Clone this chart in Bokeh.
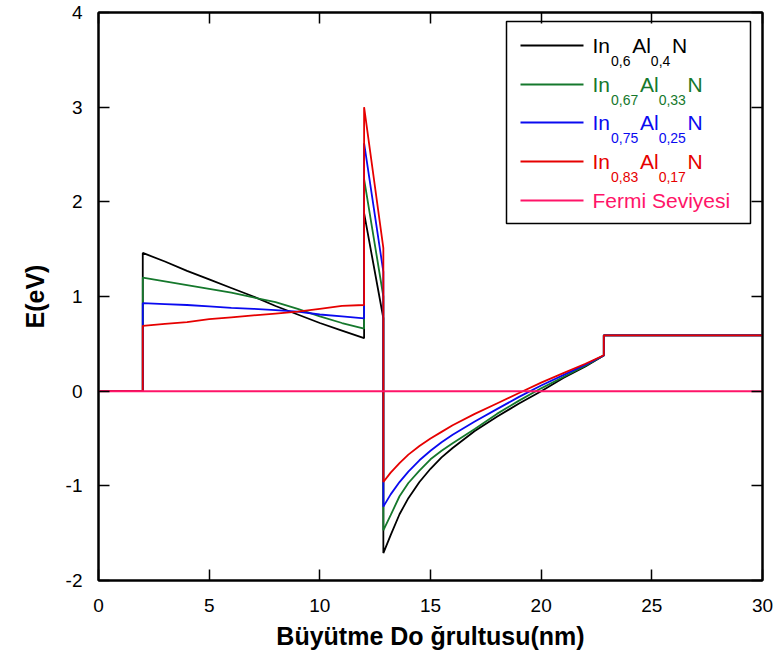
import numpy as np
from bokeh.plotting import figure
from bokeh.models import LinearAxis, Range1d, FixedTicker, ColumnDataSource, CustomJSTickFormatter
from bokeh.embed import file_html
from bokeh.resources import INLINE
from bokeh.core.properties import value

# ---------------- data ----------------
series_keys = ["In0.6Al0.4N", "In0.67Al0.33N", "In0.75Al0.25N", "In0.83Al0.17N"]
series_colors = ["#000000", "#15782c", "#0a0af0", "#e60000"]
fermi_color = "#ff1468"

# barrier region (nm)
barrier_x = [2, 3, 4, 5, 6, 7, 8, 9, 10, 11, 12]
barrier_black = [1.46, 1.37, 1.27, 1.18, 1.09, 1.00, 0.90, 0.81, 0.72, 0.64, 0.56]
barrier_green = [1.20, 1.16, 1.12, 1.08, 1.04, 0.99, 0.94, 0.87, 0.79, 0.72, 0.66]
barrier_blue = [0.93, 0.92, 0.91, 0.895, 0.88, 0.87, 0.855, 0.84, 0.81, 0.79, 0.77]
barrier_red = [0.69, 0.71, 0.73, 0.76, 0.78, 0.80, 0.82, 0.84, 0.87, 0.90, 0.91]

# spike region
spike_x = [12.0, 12.87]
spike_top = [1.88, 2.24, 2.62, 3.00]
spike_bottom = [0.77, 1.00, 1.26, 1.51]

# well region
well_x = [12.87, 13.2, 13.6, 14.0, 14.5, 15.0, 15.5, 16.0, 17.0, 18.0, 19.0, 20.0, 21.0, 22.0, 22.83]
well_black = [-1.71, -1.52, -1.30, -1.13, -0.96, -0.82, -0.70, -0.60, -0.42, -0.27, -0.13, 0.00, 0.14, 0.26, 0.377]
well_green = [-1.47, -1.31, -1.11, -0.97, -0.84, -0.72, -0.63, -0.55, -0.40, -0.24, -0.10, 0.03, 0.15, 0.27, 0.377]
well_blue = [-1.22, -1.09, -0.96, -0.85, -0.73, -0.63, -0.54, -0.46, -0.32, -0.19, -0.06, 0.06, 0.17, 0.28, 0.377]
well_red = [-0.96, -0.86, -0.76, -0.67, -0.58, -0.50, -0.43, -0.36, -0.24, -0.13, -0.02, 0.09, 0.19, 0.29, 0.38]

# substrate region
flat_x = [22.83, 30.0]
flat_level = 0.59

# before barrier
lead_x = [0.0, 2.0]
lead_level = 0.0

fermi_x = [0, 30]
fermi_y = [0, 0]

x_ticks = [0, 5, 10, 15, 20, 25, 30]
y_ticks = [-2, -1, 0, 1, 2, 3, 4]
y_tick_labels = ["-2", "-1", "0", "1", "2", "3", "4"]

legend_subs = [("0,6", "0,4"), ("0,67", "0,33"), ("0,75", "0,25"), ("0,83", "0,17")]
legend_fermi = "Fermi Seviyesi"

barriers = [barrier_black, barrier_green, barrier_blue, barrier_red]
wells = [well_black, well_green, well_blue, well_red]

# ---------------- figure ----------------
W, H = 776, 668
FL, FR, FT, FB = 98, 762, 12, 580
p = figure(width=W, height=H, output_backend="svg", toolbar_location=None,
           x_range=Range1d(0, 30), y_range=Range1d(-2, 4),
           min_border_left=FL, min_border_right=W - FR,
           min_border_top=FT, min_border_bottom=H - FB)
p.xgrid.visible = False
p.ygrid.visible = False
p.outline_line_color = "black"
p.outline_line_width = 2
p.background_fill_color = "white"
p.border_fill_color = "white"

FONT = "Liberation Sans"

def style_axis(ax, labels=True):
    ax.axis_line_color = "black"
    ax.axis_line_width = 2
    ax.major_tick_in = 11
    ax.major_tick_out = 0
    ax.major_tick_line_width = 1.5
    ax.minor_tick_line_color = None
    ax.major_label_text_font = FONT
    ax.major_label_text_color = "black"
    ax.major_label_text_font_size = "19px"
    if not labels:
        ax.formatter = CustomJSTickFormatter(code="return '';")
        ax.major_label_standoff = 0

p.xaxis.ticker = FixedTicker(ticks=x_ticks)
p.yaxis.ticker = FixedTicker(ticks=y_ticks)
style_axis(p.xaxis[0])
style_axis(p.yaxis[0])
p.yaxis[0].major_label_overrides = {t: s for t, s in zip(y_ticks, y_tick_labels)}
p.xaxis.major_label_standoff = 18
p.yaxis.major_label_standoff = 16
p.xaxis.axis_label = "Büyütme Do ğrultusu(nm)"
p.yaxis.axis_label = "E(eV)"
for ax in (p.xaxis[0], p.yaxis[0]):
    ax.axis_label_text_font = FONT
    ax.axis_label_text_font_style = "bold"
    ax.axis_label_text_font_size = "25px"
    ax.axis_label_text_color = "black"
p.xaxis.axis_label_standoff = 7
p.yaxis.axis_label_standoff = 14

top_ax = LinearAxis(ticker=FixedTicker(ticks=x_ticks))
right_ax = LinearAxis(ticker=FixedTicker(ticks=y_ticks))
style_axis(top_ax, labels=False)
style_axis(right_ax, labels=False)
p.add_layout(top_ax, "above")
p.add_layout(right_ax, "right")

# ---------------- curves ----------------
for i in range(4):
    xs = lead_x + barrier_x + spike_x + well_x + flat_x
    ys = ([lead_level, lead_level] + barriers[i] + [spike_top[i], spike_bottom[i]]
          + wells[i] + [flat_level, flat_level])
    p.line(xs, ys, line_color=series_colors[i], line_width=1.8)

p.line(fermi_x, fermi_y, line_color=fermi_color, line_width=2)

# ---------------- legend ----------------
def px2x(px):
    return (px - FL) / (FR - FL) * 30.0

def py2y(py):
    return 4.0 - (py - FT) / (FB - FT) * 6.0

box_l, box_r, box_t, box_b = 506, 750, 21, 223
p.quad(left=[px2x(box_l)], right=[px2x(box_r)], top=[py2y(box_t)], bottom=[py2y(box_b)],
       fill_color="white", line_color="black", line_width=1.5)

row_py = [45, 84, 122, 161, 200]
seg_x0 = [px2x(520)] * 5
seg_x1 = [px2x(583)] * 5
seg_y = [py2y(v) for v in row_py]
p.segment(x0=seg_x0, x1=seg_x1, y0=seg_y, y1=seg_y,
          line_color=series_colors + [fermi_color], line_width=1.8)

MAIN_FS, SUB_FS = 21, 14
txt = dict(x=[], y=[], text=[], color=[], size=[])

def add(t, px, py, color, fs):
    txt["x"].append(px2x(px))
    txt["y"].append(py2y(py))
    txt["text"].append(t)
    txt["color"].append(color)
    txt["size"].append(f"{fs}px")

def width_est(s, fs):
    w = {"0": .556, "1": .556, "2": .556, "3": .556, "4": .556, "5": .556, "6": .556,
         "7": .556, "8": .556, "9": .556, ",": .40, "I": .278, "n": .556, "A": .667,
         "l": .222, "N": .722}
    return sum(w.get(c, .556) for c in s) * fs

for i, (s1, s2) in enumerate(legend_subs):
    py = row_py[i]
    c = series_colors[i]
    x = 592
    add("In", x, py, c, MAIN_FS)
    x += width_est("In", MAIN_FS) + 1
    add(s1, x, py + 15, c, SUB_FS)
    x += width_est(s1, SUB_FS)
    add("Al", x, py, c, MAIN_FS)
    x += width_est("Al", MAIN_FS)
    add(s2, x, py + 15, c, SUB_FS)
    x += width_est(s2, SUB_FS)
    add("N", x, py, c, MAIN_FS)
add(legend_fermi, 592, row_py[4], fermi_color, MAIN_FS)

src = ColumnDataSource(txt)
p.text(x="x", y="y", text="text", source=src, text_color="color",
       text_font_size="size", text_font=value(FONT),
       text_align="left", text_baseline="middle")

open("out.html", "w").write(file_html(p, INLINE))
